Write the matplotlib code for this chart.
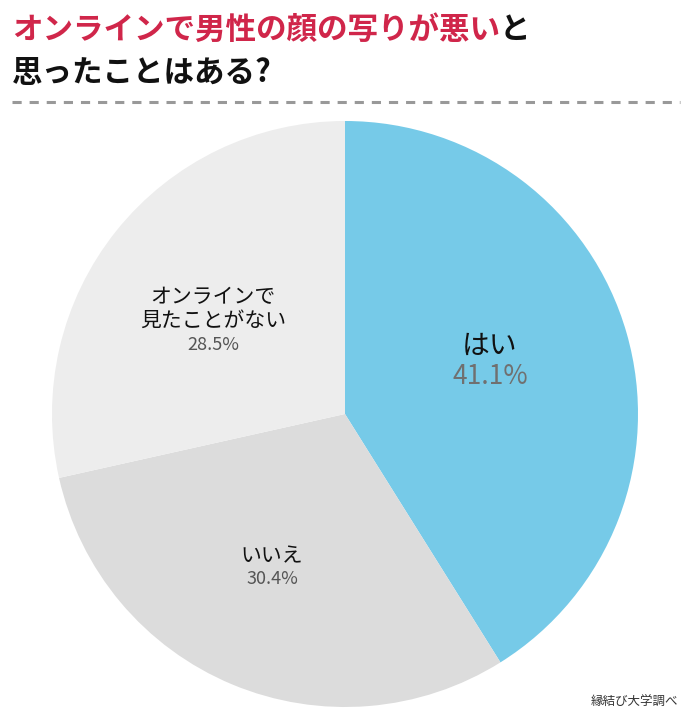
import numpy as np
import matplotlib
matplotlib.use("Agg")
import matplotlib.pyplot as plt

plt.rcParams['font.family'] = ['Noto Sans CJK JP', 'DejaVu Sans']

labels = ['はい', 'いいえ', 'オンラインで\n見たことがない']
values = [41.1, 30.4, 28.5]
colors = ['#76cae8', '#dcdcdc', '#ededed']
title_red = 'オンラインで男性の顔の写りが悪い'
title_black = 'と'
title_line2 = '思ったことはある?'
source = '縁結び大学調べ'

W, H = 690, 722
fig = plt.figure(figsize=(W / 100, H / 100), dpi=100)

# pie axes: center (345, 414), radius 293 px
cx, cy, r = 345, 414, 293
ax = fig.add_axes([(cx - r) / W, (H - cy - r) / H, 2 * r / W, 2 * r / H])
wedges, _ = ax.pie(values, colors=colors, startangle=90, counterclock=False,
                   radius=1.0, wedgeprops=dict(linewidth=0))
ax.set_xlim(-1, 1)
ax.set_ylim(-1, 1)
ax.set_aspect('equal')
ax.axis('off')

# labels inside slices (pixel positions relative to the pie)
name_xy = [(490, 346), (272, 556), (213, 309)]
pct_xy = [(490, 377), (272, 579), (213, 345)]
name_size = [20, 15, 15]
pct_size = [19, 13, 13]
pct_color = ['#707070', '#555555', '#555555']


def to_data(px, py):
    return (px - cx) / r, (cy - py) / r


for i in range(len(values)):
    x, y = to_data(*name_xy[i])
    ax.text(x, y, labels[i], ha='center', va='center',
            fontsize=name_size[i], color='#111111', linespacing=1.15)
    x, y = to_data(*pct_xy[i])
    ax.text(x, y, f'{values[i]}%', ha='center', va='center',
            fontsize=pct_size[i], color=pct_color[i])

# title
t1 = fig.text(12 / W, 1 - 30 / H, title_red, color='#d0264a', fontsize=22,
              fontweight='bold', va='center', ha='left')
fig.canvas.draw()
bb = t1.get_window_extent()
fig.text(bb.x1 / W, 1 - 30 / H, title_black, color='#111111', fontsize=22,
         fontweight='bold', va='center', ha='left')
fig.text(12 / W, 1 - 73 / H, title_line2, color='#111111', fontsize=22,
         fontweight='bold', va='center', ha='left')

# dashed separator
fig.add_artist(plt.Line2D([12 / W, 680 / W], [1 - 102 / H, 1 - 102 / H],
                          color='#999999', linewidth=2.2, linestyle=(0, (3, 2.6))))

fig.text(678 / W, 1 - 702 / H, source, ha='right', va='center',
         fontsize=9, color='#333333')

fig.savefig('out.png', dpi=100)
